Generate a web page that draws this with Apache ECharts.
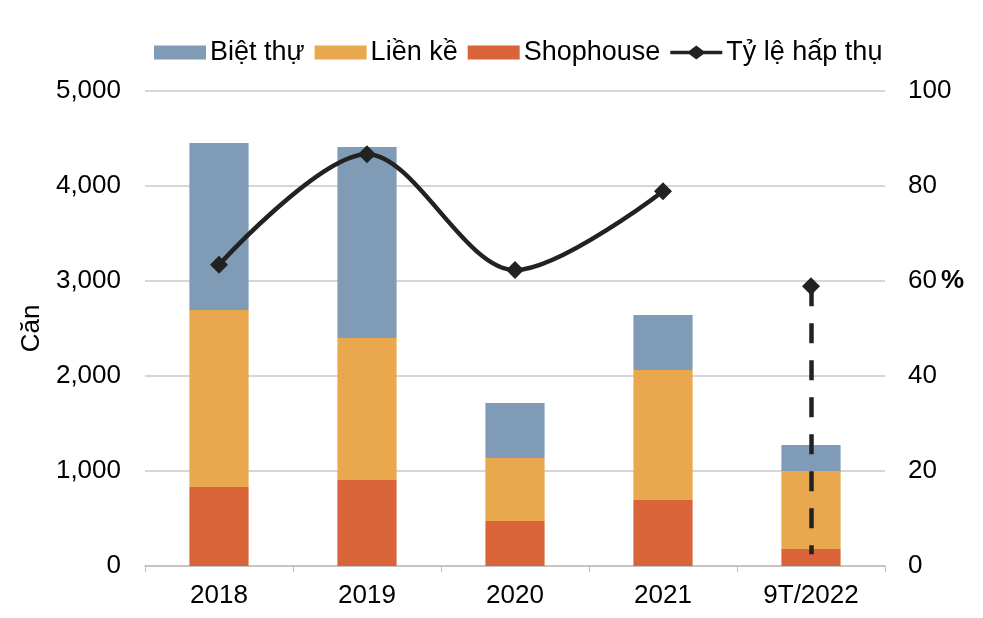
<!DOCTYPE html>
<html><head><meta charset="utf-8">
<script src="https://cdn.jsdelivr.net/npm/echarts@6/dist/echarts.min.js"></script>
<style>html,body{margin:0;padding:0;background:#fff}#c{width:983px;height:618px}</style>
</head><body><div id="c"></div>
<script>
const categories = ['2018','2019','2020','2021','9T/2022'];
const shophouse = [832, 905, 474, 695, 179];
const lienKe = [1863, 1495, 663, 1368, 821];
const bietThu = [1758, 2011, 579, 579, 274];
const tyLe = [63.4, 86.7, 62.3, 78.9, null];
const tyLe2022 = [null, null, null, null, 58.9];
const dashBottom = 2.5;

const font = 'Liberation Sans, Arial, sans-serif';
const lineIcon = 'path://M0,5.2L19,5.2L26,0L33,5.2L52,5.2L52,8.8L33,8.8L26,14L19,8.8L0,8.8Z';
const chart = echarts.init(document.getElementById('c'));
chart.setOption({
  animation: false,
  textStyle: {fontFamily: font},
  legend: {
    top: 34, left: 149, itemWidth: 52, itemHeight: 14, itemGap: 10,
    textStyle: {fontSize: 27, color: '#000', fontFamily: font, padding: [0,0,0,-1]},
    data: [
      {name: 'Biệt thự', icon: 'rect'},
      {name: 'Liền kề', icon: 'rect'},
      {name: 'Shophouse', icon: 'rect'},
      {name: 'Tỷ lệ hấp thụ', icon: lineIcon, itemStyle: {color: '#222'}}
    ]
  },
  grid: {left: 145, right: 98, top: 91, bottom: 52},
  xAxis: {
    type: 'category', data: categories,
    axisLine: {lineStyle: {color: '#bfbfbf', width: 1.5}},
    axisTick: {show: true, length: 6, lineStyle: {color: '#bfbfbf'}},
    axisLabel: {fontSize: 26, color: '#000', margin: 17, fontFamily: font}
  },
  yAxis: [
    {
      type: 'value', min: 0, max: 5000, interval: 1000,
      name: 'Căn', nameLocation: 'middle', nameGap: 92, nameRotate: 90,
      nameTextStyle: {fontSize: 26, color: '#000', fontFamily: font},
      axisLine: {show: false}, axisTick: {show: false},
      splitLine: {lineStyle: {color: '#c8c8c8', width: 1.5}},
      axisLabel: {fontSize: 26, color: '#000', margin: 24, fontFamily: font,
        formatter: v => v.toLocaleString('en-US')}
    },
    {
      type: 'value', min: 0, max: 100, interval: 20,
      axisLine: {show: false}, axisTick: {show: false}, splitLine: {show: false},
      axisLabel: {fontSize: 26, color: '#000', margin: 23, fontFamily: font,
        formatter: v => v === 60 ? '60{b|%}' : String(v),
        rich: {b: {fontWeight: 'bold', fontSize: 26, color: '#000', padding: [0,0,0,4], fontFamily: font}}}
    }
  ],
  series: [
    {name: 'Shophouse', type: 'bar', stack: 's', data: shophouse, barWidth: '40%',
      itemStyle: {color: '#d9643a'}},
    {name: 'Liền kề', type: 'bar', stack: 's', data: lienKe,
      itemStyle: {color: '#e9a74e'}},
    {name: 'Biệt thự', type: 'bar', stack: 's', data: bietThu,
      itemStyle: {color: '#7f9bb6'}},
    {name: 'Tỷ lệ hấp thụ', type: 'line', yAxisIndex: 1, data: tyLe, smooth: 0.32,
      symbol: 'diamond', symbolSize: 18, connectNulls: false,
      lineStyle: {color: '#222', width: 4.5}, itemStyle: {color: '#222'}},
    {name: 'Tỷ lệ hấp thụ 2022', type: 'line', yAxisIndex: 1, data: tyLe2022,
      symbol: 'diamond', symbolSize: 18,
      lineStyle: {color: '#222', width: 4.5}, itemStyle: {color: '#222'},
      markLine: {
        silent: true, symbol: ['none', 'none'], label: {show: false},
        lineStyle: {color: '#222', width: 4.5, type: [20, 17]},
        data: [[{coord: [categories[4], tyLe2022[4]]}, {coord: [categories[4], dashBottom]}]]
      }}
  ]
});
</script></body></html>
